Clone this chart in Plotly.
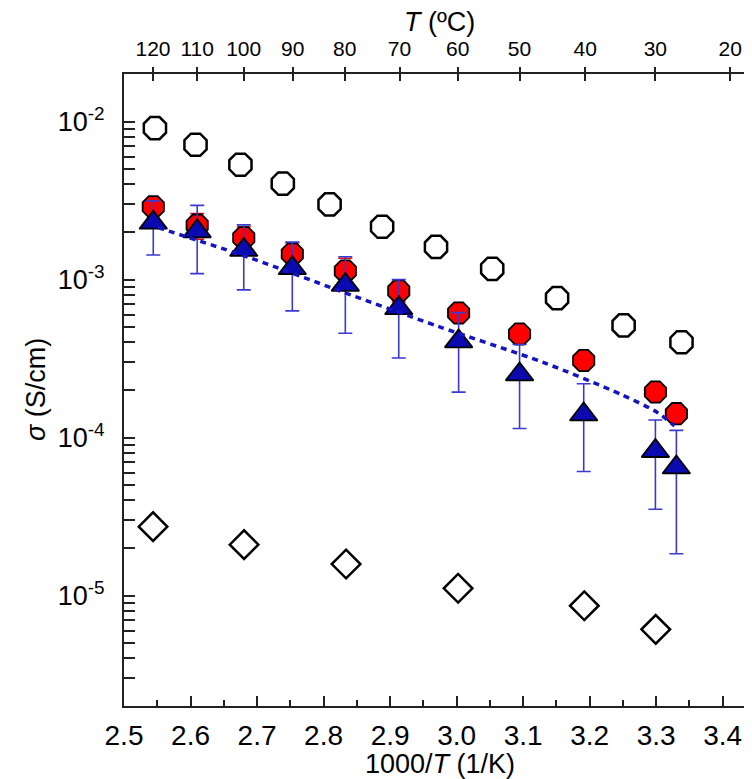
import numpy as np
import plotly.graph_objects as go

# ---------------- data ----------------
open_x = [2.5465, 2.6075, 2.675, 2.7387, 2.809, 2.888, 2.969, 3.0535, 3.151, 3.251, 3.338]
open_y = [9.09e-3, 7.13e-3, 5.33e-3, 4.05e-3, 2.99e-3, 2.16e-3, 1.61e-3, 1.17e-3, 7.63e-4, 5.13e-4, 4.01e-4]

red_x = [2.544, 2.610, 2.680, 2.753, 2.8327, 2.913, 3.003, 3.0946, 3.191, 3.2988, 3.3303]
red_y = [2.89e-3, 2.21e-3, 1.84e-3, 1.45e-3, 1.134e-3, 8.48e-4, 6.14e-4, 4.52e-4, 3.07e-4, 1.94e-4, 1.417e-4]
red_err = [3.0e-4, 4.1e-4, 3.2e-4, 2.6e-4, 2.3e-4, 1.25e-4, 6e-5, 4.5e-5, 3e-5, 2e-5, 1.5e-5]

tri_x = [2.544, 2.610, 2.680, 2.753, 2.8327, 2.913, 3.003, 3.0946, 3.191, 3.2988, 3.3303]
tri_y = [2.29e-3, 2.02e-3, 1.54e-3, 1.18e-3, 9.25e-4, 6.59e-4, 4.06e-4, 2.51e-4, 1.40e-4, 8.22e-5, 6.47e-5]
tri_err = [8.6e-4, 9.3e-4, 6.8e-4, 5.46e-4, 4.68e-4, 3.4e-4, 2.12e-4, 1.37e-4, 7.9e-5, 4.7e-5, 4.63e-5]

diam_x = [2.5437, 2.6805, 2.8338, 3.0022, 3.1919, 3.2993]
diam_y = [2.73e-5, 2.10e-5, 1.583e-5, 1.112e-5, 8.62e-6, 6.11e-6]

fit_x = [2.5515, 2.6916, 2.8267, 2.972, 3.132, 3.247, 3.3023, 3.3273]
fit_y = [2.13e-3, 1.363e-3, 8.41e-4, 5.06e-4, 2.97e-4, 1.876e-4, 1.437e-4, 1.186e-4]

top_T = [120, 110, 100, 90, 80, 70, 60, 50, 40, 30, 20]
y_decades = [-5, -4, -3, -2]

# ---------------- derived ----------------
top_pos = [1000.0 / (t + 273.15) for t in top_T]
top_txt = [str(t) for t in top_T]
y_vals = [10.0 ** d for d in y_decades]
y_txt = ["10<sup>%d</sup>" % d for d in y_decades]
y_minor = [k * 10.0 ** d for d in range(-6, -1) for k in range(2, 10)]

XR = [2.5, 3.4485]
YR = [np.log10(2e-6), np.log10(2e-2)]
FONT = "Arial, Liberation Sans, sans-serif"

fig = go.Figure()

fig.add_trace(go.Scatter(
    x=open_x, y=open_y, mode="markers",
    marker=dict(symbol="octagon-open", size=24, color="black", line=dict(width=2.5, color="black")),
    showlegend=False))

fig.add_trace(go.Scatter(
    x=diam_x, y=diam_y, mode="markers",
    marker=dict(symbol="diamond-open", size=22, color="black", line=dict(width=2.5, color="black")),
    showlegend=False))

fig.add_trace(go.Scatter(
    x=red_x, y=red_y, mode="markers",
    error_y=dict(type="data", array=red_err, color="#e01010", thickness=1.5, width=7),
    marker=dict(symbol="octagon", size=23, color="#ff0000", line=dict(width=1.8, color="black")),
    showlegend=False))

fig.add_trace(go.Scatter(
    x=tri_x, y=tri_y, mode="markers",
    error_y=dict(type="data", array=tri_err, color="#3a3ad0", thickness=1.6, width=7),
    marker=dict(symbol="triangle-up", size=24, color="#0a0ab0", line=dict(width=1.8, color="black")),
    showlegend=False))

fig.add_trace(go.Scatter(
    x=fit_x, y=fit_y, mode="lines",
    line=dict(color="#1515c0", width=3.5, dash="6px,5px", shape="spline", smoothing=0.8),
    showlegend=False))

# invisible traces to anchor the top axes
fig.add_trace(go.Scatter(x=[top_pos[0]], y=[1e-3], xaxis="x2", mode="markers",
                         marker=dict(opacity=0), showlegend=False, hoverinfo="skip"))
fig.add_trace(go.Scatter(x=[top_pos[0]], y=[1e-3], xaxis="x3", mode="markers",
                         marker=dict(opacity=0), showlegend=False, hoverinfo="skip"))

axis_line = dict(showline=True, linecolor="#222", linewidth=2, showgrid=False,
                 zeroline=False, automargin=False)

fig.update_layout(
    width=752, height=779,
    margin=dict(l=116, r=5, t=66, b=81),
    paper_bgcolor="white", plot_bgcolor="white",
    font=dict(family=FONT, color="black"),
    xaxis=dict(range=XR, tick0=2.5, dtick=0.1, tickformat=".1f",
               ticks="inside", ticklen=10, tickwidth=1.5, tickcolor="#222",
               minor=dict(dtick=0.05, tick0=2.5, ticks="inside", ticklen=6, tickwidth=1.5, tickcolor="#222"),
               tickfont=dict(size=28, family=FONT), ticklabelstandoff=3,
               mirror=False, **axis_line),
    xaxis2=dict(range=XR, overlaying="x", side="top", anchor="y",
                tickmode="array", tickvals=top_pos, ticktext=top_txt,
                ticks="outside", ticklen=5, tickwidth=1.5, tickcolor="#222",
                tickfont=dict(size=21, family=FONT), ticklabelstandoff=3,
                **axis_line),
    xaxis3=dict(range=XR, overlaying="x", side="top", anchor="y",
                tickmode="array", tickvals=top_pos, showticklabels=False,
                ticks="inside", ticklen=7, tickwidth=1.5, tickcolor="#222",
                showline=False, showgrid=False, zeroline=False, automargin=False),
    yaxis=dict(type="log", range=YR, tickmode="array", tickvals=y_vals, ticktext=y_txt,
               ticks="inside", ticklen=11, tickwidth=1.5, tickcolor="#222",
               minor=dict(tickmode="array", tickvals=y_minor, ticks="inside", ticklen=6,
                          tickwidth=1.5, tickcolor="#222"),
               tickfont=dict(size=27, family=FONT), ticklabelstandoff=12,
               mirror="allticks", **axis_line),
    annotations=[
        dict(text="<i>T</i> (ºC)", xref="paper", yref="paper", x=0.5, y=1, yshift=52,
             xanchor="center", yanchor="middle", showarrow=False, font=dict(size=27, family=FONT)),
        dict(text="1000/<i>T</i> (1/K)", xref="paper", yref="paper", x=0.5, y=0, yshift=-58,
             xanchor="center", yanchor="middle", showarrow=False, font=dict(size=27, family=FONT)),
        dict(text="<i>σ</i> (S/cm)", xref="paper", yref="paper", x=0, y=0.5, xshift=-88,
             xanchor="center", yanchor="middle", textangle=-90, showarrow=False,
             font=dict(size=27, family=FONT)),
    ],
)

fig.write_html("out.html")
